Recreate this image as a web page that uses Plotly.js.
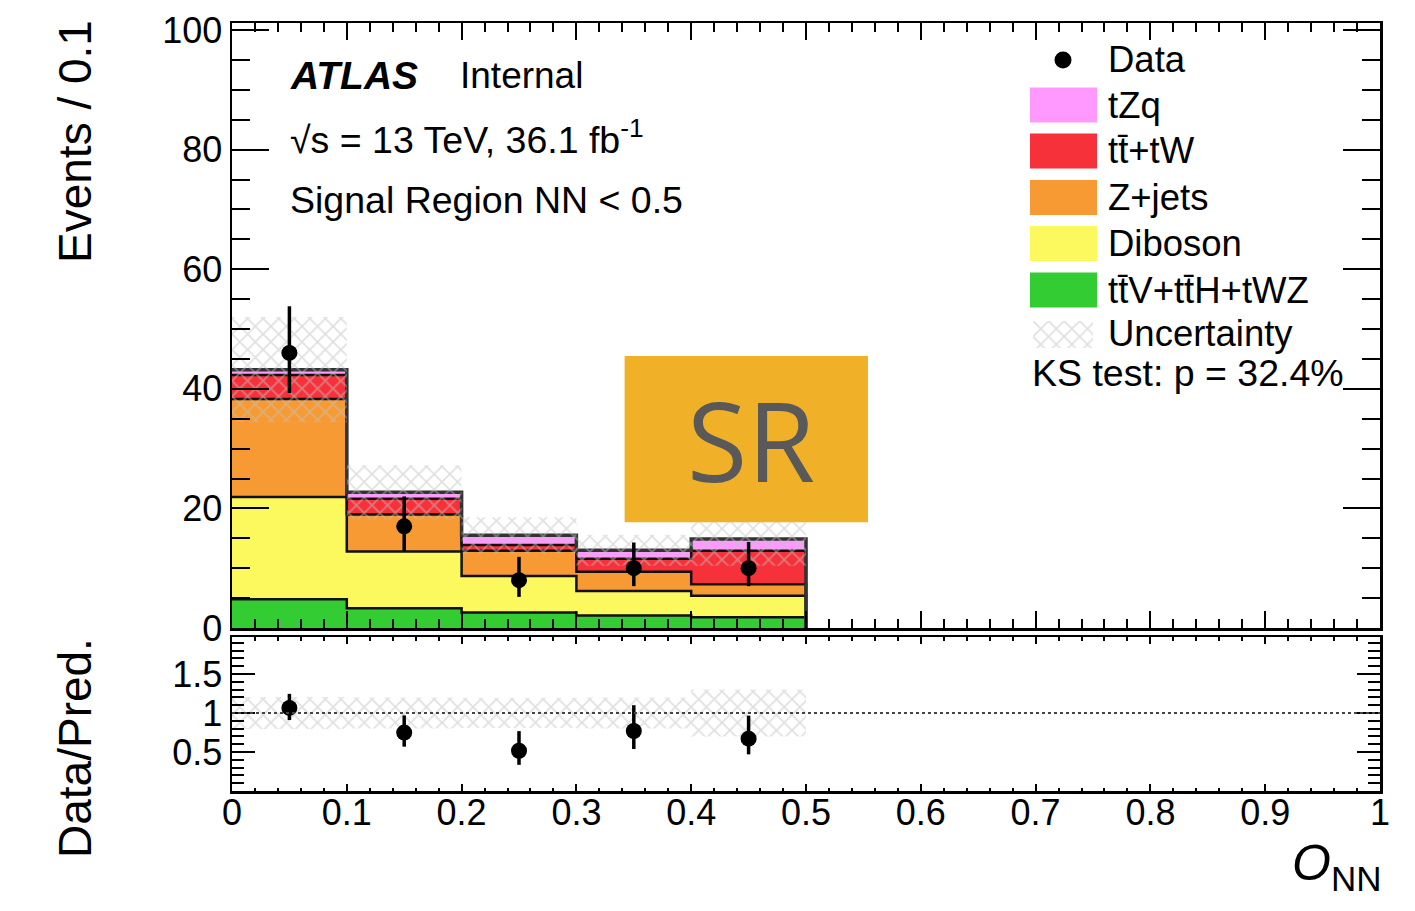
<!DOCTYPE html>
<html>
<head>
<meta charset="utf-8">
<script src="https://cdn.plot.ly/plotly-3.0.1.min.js"></script>
<style>html,body{margin:0;padding:0;background:#fff;} #chart{width:1415px;height:911px;}</style>
</head>
<body>
<div id="chart"></div>
<script>
// ---------------- data ----------------
const binEdges = [0, 0.1, 0.2, 0.3, 0.4, 0.5];
const binCenters = [0.05, 0.15, 0.25, 0.35, 0.45];
const ttvSeries = [4.8, 3.3, 2.6, 2.1, 1.8];      // ttV+ttH+tWZ
const dibosonSeries = [17.1, 9.5, 6.1, 4.1, 3.6];
const zjetsSeries = [16.4, 6.2, 4.2, 3.2, 1.9];
const ttbarSeries = [4.0, 2.6, 1.0, 2.2, 5.6];   // tt+tW
const tzqSeries = [0.9, 1.1, 1.6, 1.4, 2.0];
const dataValues = [46, 17, 8, 10, 10];
const dataErrUp = [7.8, 5.0, 3.9, 4.3, 4.4];
const dataErrDown = [6.7, 4.1, 2.8, 3.0, 3.0];
const uncertainty = [8.8, 4.5, 3.0, 2.6, 4.5];

const seriesNames = ['tt\u0304V+tt\u0304H+tWZ', 'Diboson', 'Z+jets', 'tt\u0304+tW', 'tZq'];
const seriesColors = ['#33CC33', '#FCF95E', '#F79A33', '#F7313A', '#FF99FF'];
const mainTicks = [0, 20, 40, 60, 80, 100];
const ratioTicks = [0.5, 1, 1.5];
const ratioTickText = ['0.5', '1', '1.5'];
const xTicks = [0, 0.1, 0.2, 0.3, 0.4, 0.5, 0.6, 0.7, 0.8, 0.9, 1];
const xTickText = ['0', '0.1', '0.2', '0.3', '0.4', '0.5', '0.6', '0.7', '0.8', '0.9', '1'];

// ---------------- derived ----------------
const stacks = [ttvSeries, dibosonSeries, zjetsSeries, ttbarSeries, tzqSeries];
const cumul = [];
let run = binCenters.map(() => 0);
stacks.forEach(s => { run = run.map((v, i) => v + s[i]); cumul.push(run.slice()); });
const total = cumul[cumul.length - 1];

function stepDrop(vals) {
  return { x: binEdges.concat([binEdges[binEdges.length - 1]]), y: vals.concat([vals[vals.length - 1], 0]) };
}
function step(vals) {
  return { x: binEdges.slice(), y: vals.concat([vals[vals.length - 1]]) };
}

const FONT = 'Liberation Sans, Arial, Helvetica, sans-serif';
const hatch = { shape: 'x', size: 11, solidity: 0.3, fgcolor: '#c2c2c2', bgcolor: 'rgba(0,0,0,0)', fillmode: 'overlay' };

const traces = [];
cumul.forEach((c, k) => {
  const s = stepDrop(c);
  traces.push({
    type: 'scatter', mode: 'lines', x: s.x, y: s.y, xaxis: 'x', yaxis: 'y',
    line: { shape: 'hv', color: k === cumul.length - 1 ? '#333' : '#111', width: k === cumul.length - 1 ? 3.5 : 2.5 },
    fill: k === 0 ? 'tozeroy' : 'tonexty', fillcolor: seriesColors[k],
    name: seriesNames[k], hoverinfo: 'skip'
  });
});
// uncertainty band (main)
const uLo = step(total.map((v, i) => v - uncertainty[i]));
const uHi = step(total.map((v, i) => v + uncertainty[i]));
traces.push({ type: 'scatter', mode: 'lines', x: uLo.x, y: uLo.y, xaxis: 'x', yaxis: 'y', line: { shape: 'hv', width: 0 }, hoverinfo: 'skip' });
traces.push({ type: 'scatter', mode: 'lines', x: uHi.x, y: uHi.y, xaxis: 'x', yaxis: 'y', line: { shape: 'hv', width: 0 },
  fill: 'tonexty', fillcolor: 'rgba(0,0,0,0)', fillpattern: hatch, hoverinfo: 'skip' });
// data
traces.push({ type: 'scatter', mode: 'markers', x: binCenters, y: dataValues, xaxis: 'x', yaxis: 'y',
  marker: { color: '#000', size: 16 },
  error_y: { type: 'data', symmetric: false, array: dataErrUp, arrayminus: dataErrDown, color: '#000', thickness: 3.5, width: 0 } });

// ratio band
const rLo = step(total.map((v, i) => 1 - uncertainty[i] / v));
const rHi = step(total.map((v, i) => 1 + uncertainty[i] / v));
traces.push({ type: 'scatter', mode: 'lines', x: rLo.x, y: rLo.y, xaxis: 'x2', yaxis: 'y2', line: { shape: 'hv', width: 0 }, hoverinfo: 'skip' });
traces.push({ type: 'scatter', mode: 'lines', x: rHi.x, y: rHi.y, xaxis: 'x2', yaxis: 'y2', line: { shape: 'hv', width: 0 },
  fill: 'tonexty', fillcolor: 'rgba(0,0,0,0)', fillpattern: hatch, hoverinfo: 'skip' });
traces.push({ type: 'scatter', mode: 'markers', x: binCenters, y: dataValues.map((d, i) => d / total[i]), xaxis: 'x2', yaxis: 'y2',
  marker: { color: '#000', size: 16 },
  error_y: { type: 'data', symmetric: false, array: dataErrUp.map((e, i) => e / total[i]), arrayminus: dataErrDown.map((e, i) => e / total[i]), color: '#000', thickness: 3.5, width: 0 } });

// legend hatch swatch (tiny subplot)
traces.push({ type: 'bar', x: [0], y: [1], width: [1], xaxis: 'x3', yaxis: 'y3',
  marker: { color: 'rgba(0,0,0,0)', line: { width: 0 }, pattern: hatch }, hoverinfo: 'skip' });

// ---------------- layout ----------------
const PL = 232, PR = 1380, PT = 23, PB = 791;
const fx = px => (px - PL) / (PR - PL);
const fy = py => (PB - py) / (PB - PT);

const axBase = {
  showline: true, linecolor: '#000', linewidth: 2.5, mirror: 'ticks', ticks: 'inside', tickcolor: '#000', tickwidth: 2,
  showgrid: false, zeroline: false, tickfont: { family: FONT, size: 36, color: '#000' }
};

const shapes = [
  { type: 'line', xref: 'x2', yref: 'y2', x0: 0, x1: 1, y0: 1, y1: 1, line: { color: '#444', width: 2, dash: 'dot' } },
  { type: 'rect', xref: 'x', yref: 'y', x0: 0.342, x1: 0.554, y0: 17.7, y1: 45.5, fillcolor: '#F0B128', line: { width: 0 }, layer: 'above' },
  { type: 'circle', xref: 'paper', yref: 'paper', x0: fx(1054.5), x1: fx(1071.5), y0: fy(68.5), y1: fy(51.5), fillcolor: '#000', line: { width: 0 } }
];
const legendCenters = [290, 243.5, 197.5, 151, 105];
seriesColors.forEach((c, k) => {
  shapes.push({ type: 'rect', xref: 'paper', yref: 'paper', x0: fx(1030), x1: fx(1097),
    y0: fy(legendCenters[k] + 17.5), y1: fy(legendCenters[k] - 17.5), fillcolor: c, line: { width: 0 } });
});

const ann = (x, y, text, size, opts) => Object.assign({ xref: 'paper', yref: 'paper', x: fx(x), y: fy(y), text: text, showarrow: false,
  xanchor: 'left', yanchor: 'middle', font: { family: FONT, size: size, color: '#000' } }, opts || {});

const annotations = [
  ann(288, 76, '<b><i>ATLAS</i></b>', 39),
  ann(458, 76, 'Internal', 37),
  ann(288, 137, '\u221As = 13 TeV, 36.1 fb<sup>-1</sup>', 37.5),
  ann(288, 200, 'Signal Region NN < 0.5', 37.5),
  ann(1106, 59, 'Data', 36.5),
  ann(1030, 373, 'KS test: p = 32.4%', 37.5),
  ann(1106, 333, 'Uncertainty', 36.5),
  ann(75, 142, 'Events / 0.1', 46, { xanchor: 'center', textangle: -90 }),
  ann(75, 748, 'Data/Pred.', 46, { xanchor: 'center', textangle: -90 }),
  ann(1383, 866, '<i>O</i><sub>NN</sub>', 50, { xanchor: 'right' }),
  { xref: 'x', yref: 'y', x: 0.452, y: 31.6, text: 'SR', showarrow: false, xanchor: 'center', yanchor: 'middle',
    font: { family: 'Open Sans, Noto Sans, sans-serif', size: 110, color: '#595959' } }
];
seriesNames.forEach((n, k) => annotations.push(ann(1106, legendCenters[k], n, 36.5)));

const layout = {
  width: 1415, height: 911,
  margin: { l: PL, r: 1415 - PR, t: PT, b: 911 - PB, pad: 0 },
  paper_bgcolor: '#fff', plot_bgcolor: 'rgba(0,0,0,0)',
  showlegend: false,
  font: { family: FONT, color: '#000' },
  xaxis: Object.assign({}, axBase, { domain: [0, 1], anchor: 'y', range: [0, 1], tickvals: xTicks, showticklabels: false,
    ticklen: 17, minor: { tickmode: 'linear', tick0: 0, dtick: 0.02, ticklen: 9, ticks: 'inside', tickcolor: '#000', tickwidth: 2 } }),
  yaxis: Object.assign({}, axBase, { domain: [fy(628), 1], anchor: 'x', range: [0, (628 - PT) / 5.98], tickvals: mainTicks,
    ticklen: 37, minor: { tickmode: 'linear', tick0: 0, dtick: 5, ticklen: 18, ticks: 'inside', tickcolor: '#000', tickwidth: 2 } }),
  xaxis2: Object.assign({}, axBase, { domain: [0, 1], anchor: 'y2', range: [0, 1], tickvals: xTicks, ticktext: xTickText,
    ticklabelstandoff: -12,
    ticklen: 7, minor: { tickmode: 'linear', tick0: 0, dtick: 0.02, ticklen: 3.5, ticks: 'inside', tickcolor: '#000', tickwidth: 2 } }),
  yaxis2: Object.assign({}, axBase, { domain: [0, fy(637)], anchor: 'x2', range: [0, (PB - 637) / 78], tickvals: ratioTicks, ticktext: ratioTickText,
    ticklen: 23, minor: { tickmode: 'linear', tick0: 0, dtick: 0.1, ticklen: 12, ticks: 'inside', tickcolor: '#000', tickwidth: 2 } }),
  xaxis3: { domain: [fx(1033), fx(1093)], anchor: 'y3', range: [-0.5, 0.5], visible: false, fixedrange: true },
  yaxis3: { domain: [fy(348), fy(321)], anchor: 'x3', range: [0, 1], visible: false, fixedrange: true },
  shapes: shapes,
  annotations: annotations
};

Plotly.newPlot('chart', traces, layout, { displayModeBar: false, staticPlot: true });
</script>
</body>
</html>
